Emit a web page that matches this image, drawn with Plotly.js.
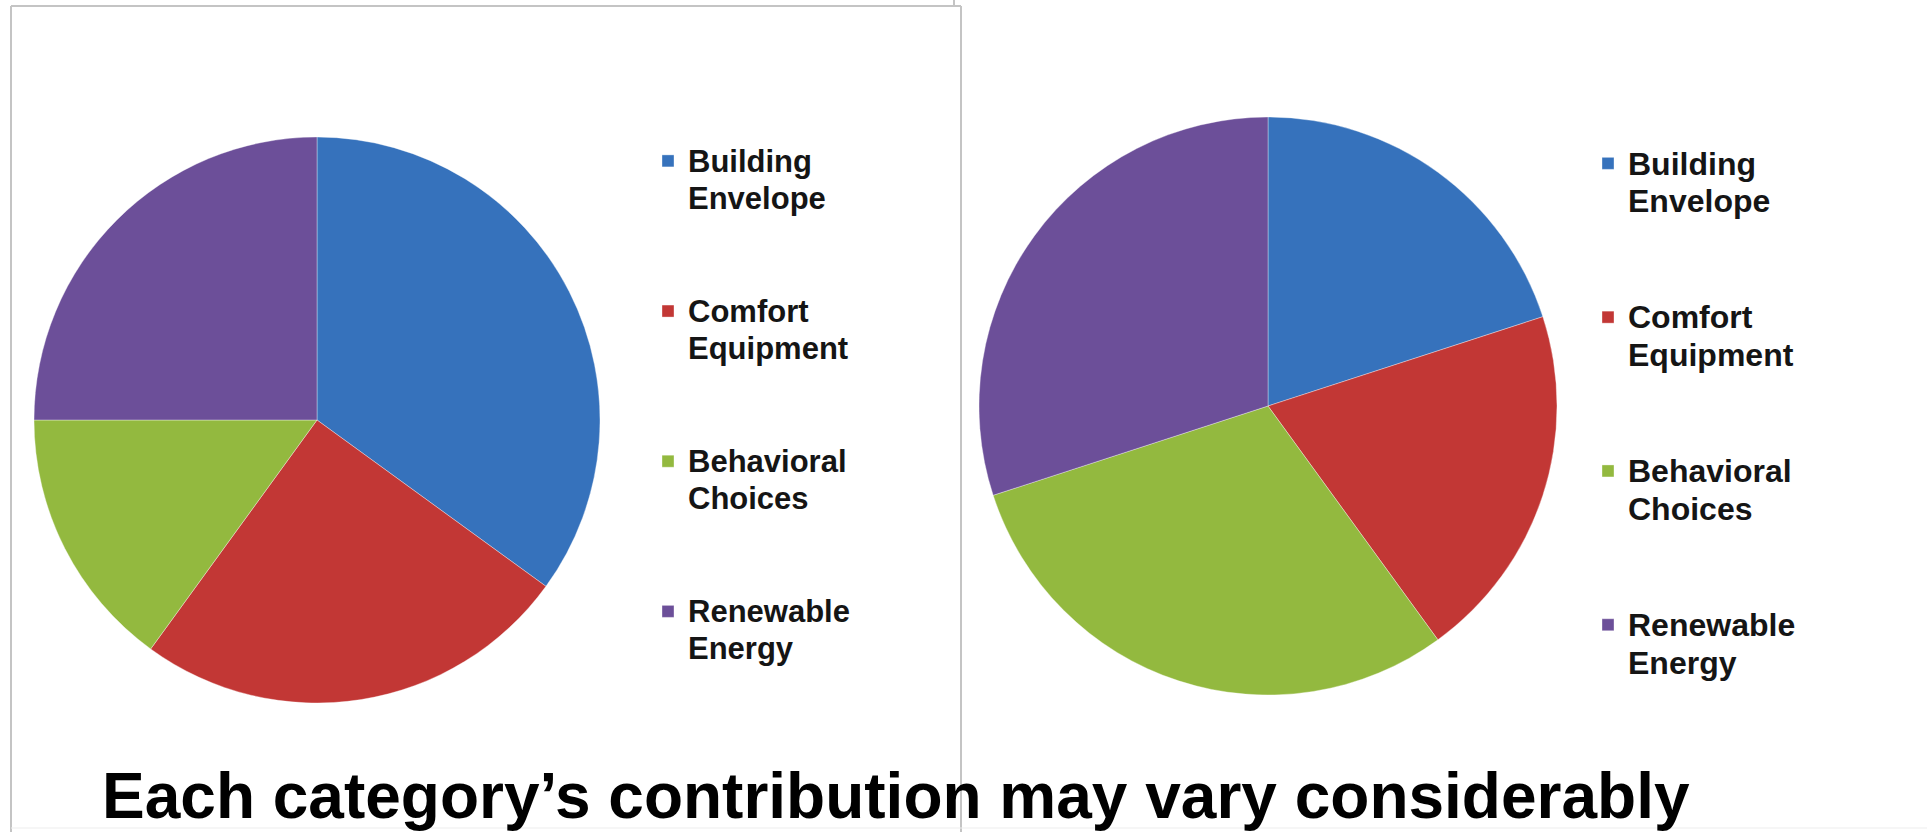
<!DOCTYPE html>
<html><head><meta charset="utf-8">
<script src="https://cdn.plot.ly/plotly-3.0.1.min.js"></script>
<style>html,body{margin:0;padding:0;background:#fff;overflow:hidden}#chart{width:1927px;height:832px}</style>
</head><body><div id="chart"></div>
<script>
// ---- data ----
const categories = ["Building Envelope", "Comfort Equipment", "Behavioral Choices", "Renewable Energy"];
const leftValues = [35, 25, 15, 25];
const rightValues = [20, 20, 30, 30];
const sliceColors = ["#3672bc", "#c23735", "#93b93f", "#6c4f99"];
const titleText = "Each category’s contribution may vary considerably";

// ---- build ----
const W = 1927, H = 832;
const px = v => v / W;
const py = v => 1 - v / H;
const FONT = "Liberation Sans, Arial, sans-serif";

function legendLabels(size) {
  return categories.map(name =>
    name.split(' ').map(w => '<span style="font-size:' + size + 'px">' + w + '</span>').join('<br>') + '<br> <br> ');
}

function pieTrace(values, labels, cx, cy, r, legendId) {
  return {
    type: 'pie', labels: labels, values: values, sort: false,
    direction: 'clockwise', rotation: 0, textinfo: 'none',
    hovertemplate: '%{label}: %{percent}<extra></extra>',
    marker: {colors: sliceColors, line: {color: 'rgba(255,255,255,0.35)', width: 1}},
    domain: {x: [px(cx - r), px(cx + r)], y: [py(cy + r), py(cy - r)]},
    legend: legendId
  };
}

const data = [
  pieTrace(leftValues, legendLabels(31), 317, 420, 283, 'legend'),
  pieTrace(rightValues, legendLabels(32), 1268, 406, 289, 'legend2')
];

function legendCfg(x, y, size) {
  return {
    x: x, y: y, xanchor: 'left', yanchor: 'top', valign: 'top',
    bgcolor: 'rgba(0,0,0,0)', borderwidth: 0, traceorder: 'normal',
    font: {family: FONT, size: size, color: '#151515', weight: 'bold'}
  };
}

const lineStyle = {color: '#c4c4c4', width: 2};
const layout = {
  width: W, height: H, margin: {l: 0, r: 0, t: 0, b: 0},
  paper_bgcolor: '#ffffff', plot_bgcolor: '#ffffff', showlegend: true,
  legend: legendCfg(px(648), py(136), 28.3),
  legend2: legendCfg(px(1588), py(138), 29),
  annotations: [{
    text: titleText, xref: 'paper', yref: 'paper', x: px(100), y: py(796),
    xanchor: 'left', yanchor: 'middle', showarrow: false,
    font: {family: FONT, size: 64, color: '#000000', weight: 'bold'}
  }],
  shapes: [
    {type: 'line', xref: 'paper', yref: 'paper', x0: px(11), x1: px(961), y0: py(6), y1: py(6), line: lineStyle},
    {type: 'line', xref: 'paper', yref: 'paper', x0: px(11), x1: px(11), y0: py(6), y1: py(832), line: lineStyle},
    {type: 'line', xref: 'paper', yref: 'paper', x0: px(961), x1: px(961), y0: py(6), y1: py(832), line: lineStyle},
    {type: 'line', xref: 'paper', yref: 'paper', x0: px(954), x1: px(954), y0: py(0), y1: py(6), line: lineStyle},
    {type: 'line', xref: 'paper', yref: 'paper', x0: px(11), x1: px(1927), y0: py(828), y1: py(828), line: {color: '#ededed', width: 1}}
  ]
};

Plotly.newPlot('chart', data, layout, {displayModeBar: false});
</script>
</body></html>
